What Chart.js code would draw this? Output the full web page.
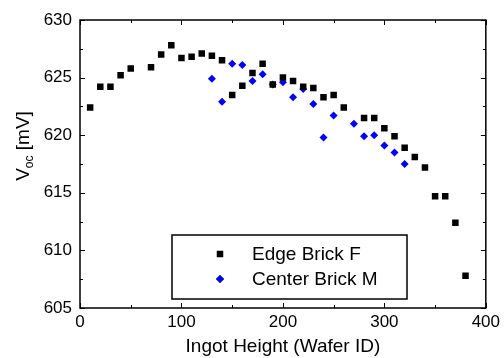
<!DOCTYPE html>
<html lang="en">
<head>
    <meta charset="UTF-8">
    <title>Voc vs Ingot Height</title>
    <script src="https://cdn.jsdelivr.net/npm/chart.js"></script>
    <style>
        html, body {
            margin: 0;
            padding: 0;
            background: #fff;
        }
        .chart-box {
            width: 504px;
            height: 358px;
        }
    </style>
</head>
<body>
    <div class="chart-box">
        <canvas id="vocChart" width="504" height="358"></canvas>
    </div>
    <script>
        // Edge brick F (black squares)
        const edgeHeight = [10, 20, 30, 40, 50, 70, 80, 90, 100, 110, 120, 130, 140, 150, 160, 170, 180,
            190, 200, 210, 220, 230, 240, 250, 260, 280, 290, 300, 310, 320, 330, 340, 350, 360, 370, 380];
        const edgeVoc = [622.4, 624.2, 624.2, 625.2, 625.8, 625.9, 627.0, 627.8, 626.7, 626.8, 627.1, 626.9,
            626.5, 623.5, 624.3, 625.4, 626.2, 624.4, 625.0, 624.7, 624.2, 624.1, 623.3, 623.5, 622.4,
            621.5, 621.5, 620.6, 619.9, 618.9, 618.1, 617.2, 614.7, 614.7, 612.4, 607.8];

        // Center brick M (blue diamonds)
        const centerHeight = [130, 140, 150, 160, 170, 180, 190, 200, 210, 220, 230, 240, 250, 270, 280, 290, 300, 310, 320];
        const centerVoc = [624.9, 622.9, 626.2, 626.1, 624.7, 625.3, 624.4, 624.6, 623.3, 624.0, 622.7,
            619.8, 621.7, 621.0, 619.9, 620.0, 619.1, 618.5, 617.5];

        const seriesNames = ['Edge Brick F', 'Center Brick M'];
        const xTicks = [0, 100, 200, 300, 400];
        const yTicks = [605, 610, 615, 620, 625, 630];

        const toPoints = (xs, ys) => xs.map((x, i) => ({ x: x, y: ys[i] }));

        // inward ticks on all four sides, plus the frame, the legend and the y title
        const framePlugin = {
            id: 'frame',
            afterDraw(chart) {
                const ctx = chart.ctx;
                const area = chart.chartArea;
                const xs = chart.scales.x;
                const ys = chart.scales.y;
                ctx.save();
                ctx.strokeStyle = '#000';
                ctx.lineWidth = 1.5;
                ctx.strokeRect(area.left, area.top, area.right - area.left, area.bottom - area.top);

                ctx.lineWidth = 1;
                ctx.beginPath();
                xTicks.forEach((v, i) => {
                    const len = 5;
                    const px = Math.round(xs.getPixelForValue(v)) + 0.5;
                    ctx.moveTo(px, area.bottom); ctx.lineTo(px, area.bottom - len);
                    ctx.moveTo(px, area.top); ctx.lineTo(px, area.top + len);
                    if (i < xTicks.length - 1) {
                        const mx = Math.round(xs.getPixelForValue((v + xTicks[i + 1]) / 2)) + 0.5;
                        ctx.moveTo(mx, area.bottom); ctx.lineTo(mx, area.bottom - 3);
                        ctx.moveTo(mx, area.top); ctx.lineTo(mx, area.top + 3);
                    }
                });
                yTicks.forEach((v, i) => {
                    const len = 5;
                    const py = Math.round(ys.getPixelForValue(v)) + 0.5;
                    ctx.moveTo(area.left, py); ctx.lineTo(area.left + len, py);
                    ctx.moveTo(area.right, py); ctx.lineTo(area.right - len, py);
                    if (i < yTicks.length - 1) {
                        const my = Math.round(ys.getPixelForValue((v + yTicks[i + 1]) / 2)) + 0.5;
                        ctx.moveTo(area.left, my); ctx.lineTo(area.left + 3, my);
                        ctx.moveTo(area.right, my); ctx.lineTo(area.right - 3, my);
                    }
                });
                ctx.stroke();

                // legend box
                const lx = 172, ly = 235, lw = 235, lh = 64;
                ctx.fillStyle = '#fff';
                ctx.fillRect(lx, ly, lw, lh);
                ctx.lineWidth = 1.5;
                ctx.strokeRect(lx, ly, lw, lh);
                ctx.font = '19px "Liberation Sans", Arial, sans-serif';
                ctx.textBaseline = 'middle';
                ctx.textAlign = 'left';
                chart.data.datasets.forEach((ds, i) => {
                    const rowY = ly + 19 + i * 25;
                    Chart.helpers.drawPoint(ctx, {
                        pointStyle: ds.pointStyle,
                        radius: ds.pointRadius,
                        borderWidth: 0
                    }, 220, rowY);
                    ctx.fillStyle = ds.backgroundColor;
                    ctx.fill();
                    ctx.fillStyle = '#000';
                    ctx.fillText(ds.label, 252, rowY + 1);
                });

                // y title with subscript: V_oc [mV]
                ctx.translate(22, 146);
                ctx.rotate(-Math.PI / 2);
                ctx.fillStyle = '#000';
                ctx.textBaseline = 'alphabetic';
                const big = '19px "Liberation Sans", Arial, sans-serif';
                const small = '12px "Liberation Sans", Arial, sans-serif';
                ctx.font = big;
                const wV = ctx.measureText('V').width;
                const wRest = ctx.measureText(' [mV]').width;
                ctx.font = small;
                const wSub = ctx.measureText('oc').width;
                let x0 = -(wV + wSub + wRest) / 2;
                const base = 7;
                ctx.font = big;
                ctx.fillText('V', x0, base);
                ctx.font = small;
                ctx.fillText('oc', x0 + wV, base + 4);
                ctx.font = big;
                ctx.fillText(' [mV]', x0 + wV + wSub, base);
                ctx.restore();
            }
        };

        const ctx = document.getElementById('vocChart').getContext('2d');
        new Chart(ctx, {
            type: 'scatter',
            data: {
                datasets: [{
                    label: seriesNames[0],
                    data: toPoints(edgeHeight, edgeVoc),
                    pointStyle: 'rect',
                    pointRadius: 4.6,
                    borderWidth: 0,
                    backgroundColor: '#000000'
                }, {
                    label: seriesNames[1],
                    data: toPoints(centerHeight, centerVoc),
                    pointStyle: 'rectRot',
                    pointRadius: 4,
                    borderWidth: 0,
                    backgroundColor: '#0000ff'
                }]
            },
            options: {
                responsive: false,
                animation: false,
                layout: {
                    padding: { left: 0, right: 16, top: 20, bottom: 0 }
                },
                plugins: {
                    legend: { display: false },
                    tooltip: { enabled: false }
                },
                scales: {
                    x: {
                        type: 'linear',
                        min: 0,
                        max: 400,
                        afterBuildTicks: (scale) => { scale.ticks = xTicks.map(v => ({ value: v })); },
                        afterFit: (scale) => { scale.height = 50; },
                        grid: { display: false, drawTicks: false },
                        border: { display: false },
                        ticks: {
                            color: '#000',
                            padding: 4,
                            maxRotation: 0,
                            font: { family: '"Liberation Sans", Arial, sans-serif', size: 17 }
                        },
                        title: {
                            display: true,
                            text: 'Ingot Height (Wafer ID)',
                            color: '#000',
                            padding: { top: 0, bottom: 0 },
                            font: { family: '"Liberation Sans", Arial, sans-serif', size: 19 }
                        }
                    },
                    y: {
                        type: 'linear',
                        min: 605,
                        max: 630,
                        afterBuildTicks: (scale) => { scale.ticks = yTicks.map(v => ({ value: v })); },
                        afterFit: (scale) => { scale.width = 80; },
                        grid: { display: false, drawTicks: false },
                        border: { display: false },
                        ticks: {
                            color: '#000',
                            padding: 8,
                            font: { family: '"Liberation Sans", Arial, sans-serif', size: 17 }
                        }
                    }
                }
            },
            plugins: [framePlugin]
        });
    </script>
</body>
</html>
